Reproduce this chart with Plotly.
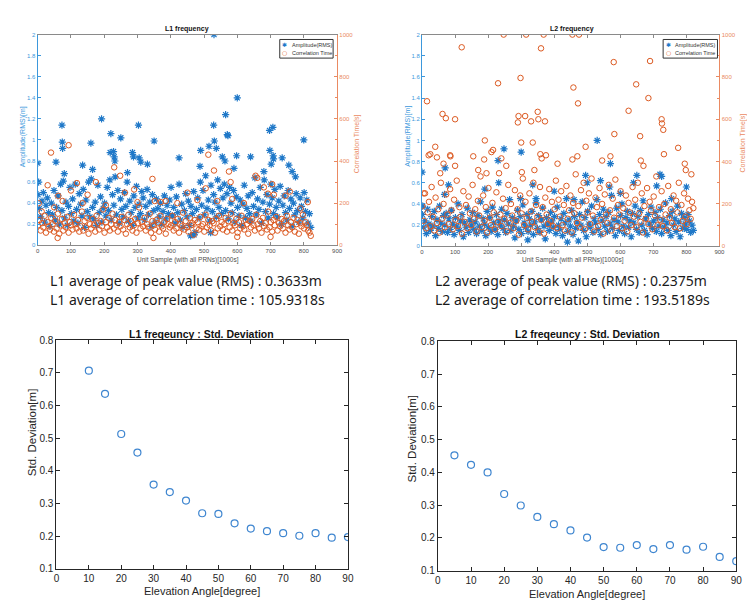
import plotly.graph_objects as go

# ---------------- data ----------------
SAMPLE_STEP = 4  # base points every 4th unit sample

L1_AMP_BASE = [
    0.48, 0.35, 0.27, 0.42, 0.50, 0.22, 0.38, 0.45, 0.31, 0.18, 0.40, 0.29, 0.52, 0.24, 0.36, 0.47, 0.20, 0.58, 0.33, 0.61,
    0.26, 0.41, 0.19, 0.37, 0.55, 0.30, 0.44, 0.23, 0.58, 0.34, 0.21, 0.49, 0.39, 0.28, 0.53, 0.17, 0.43, 0.32, 0.60, 0.27,
    0.63, 0.36, 0.25, 0.41, 0.19, 0.57, 0.31, 0.46, 0.22, 0.35, 0.40, 0.28, 0.55, 0.33, 0.62, 0.24, 0.48, 0.38, 0.65, 0.29,
    0.52, 0.21, 0.44, 0.34, 0.27, 0.50, 0.37, 0.60, 0.23, 0.42, 0.31, 0.19, 0.47, 0.36, 0.56, 0.26, 0.39, 0.30, 0.51, 0.45,
    0.24, 0.37, 0.53, 0.29, 0.41, 0.18, 0.48, 0.33, 0.22, 0.44, 0.35, 0.27, 0.40, 0.20, 0.32, 0.47, 0.25, 0.38, 0.30, 0.43,
    0.55, 0.28, 0.36, 0.21, 0.46, 0.31, 0.58, 0.24, 0.39, 0.17, 0.33, 0.49, 0.27, 0.42, 0.19, 0.37, 0.30, 0.51, 0.12, 0.34,
    0.45, 0.26, 0.60, 0.38, 0.52, 0.29, 0.66, 0.35, 0.43, 0.23, 0.57, 0.32, 0.48, 0.41, 0.27, 0.62, 0.36, 0.54, 0.30, 0.45,
    0.58, 0.33, 0.49, 0.25, 0.55, 0.40, 0.31, 0.52, 0.22, 0.46, 0.36, 0.28, 0.43, 0.19, 0.39, 0.57, 0.26, 0.35, 0.47, 0.30,
    0.23, 0.50, 0.37, 0.64, 0.29, 0.44, 0.34, 0.55, 0.21, 0.41, 0.62, 0.32, 0.48, 0.26, 0.39, 0.58, 0.45, 0.30, 0.53, 0.36,
    0.27, 0.42, 0.56, 0.20, 0.38, 0.47, 0.31, 0.24, 0.52, 0.35, 0.44, 0.18, 0.40, 0.29, 0.49, 0.33, 0.22, 0.45, 0.37, 0.26,
    0.50, 0.32, 0.43, 0.21, 0.30, 0.17,
]
L1_AMP_PEAK_X = [0, 3, 55, 73, 74, 75, 80, 135, 160, 165, 192, 220, 218, 228, 230, 232, 250, 270, 285, 288,
                 303, 305, 310, 330, 350, 425, 490, 488, 515, 530, 529, 531, 537, 555, 565, 563, 570, 572, 590, 600,
                 598, 640, 680, 697, 698, 702, 707, 708, 709, 735, 755, 765, 775, 800, 460, 470, 520]
L1_AMP_PEAK_Y = [0.78, 0.60, 0.79, 1.14, 0.98, 0.92, 0.68, 0.76, 0.97, 0.72, 1.20, 1.06, 0.88, 0.89, 0.84, 0.80, 1.02, 0.69, 0.88, 0.84,
                 1.14, 0.83, 0.79, 0.77, 0.99, 0.83, 0.90, 0.75, 0.94, 2.00, 1.14, 0.99, 0.92, 0.84, 1.24, 0.80, 1.05, 1.04, 0.73, 1.40,
                 0.85, 0.84, 0.70, 1.09, 0.90, 0.77, 1.12, 0.85, 0.82, 0.83, 0.76, 0.70, 0.65, 1.00, 0.09, 0.10, 0.12]

L1_COR_BASE = [
    95, 120, 70, 105, 85, 140, 60, 110, 90, 75, 130, 100, 65, 115, 80, 150, 55, 95, 125, 70,
    105, 85, 135, 60, 110, 95, 75, 145, 100, 80, 120, 65, 90, 160, 70, 115, 85, 130, 55, 100,
    80, 125, 95, 65, 140, 105, 75, 115, 90, 170, 60, 110, 85, 130, 70, 100, 150, 80, 120, 95,
    65, 110, 90, 135, 75, 120, 55, 100, 145, 85, 115, 70, 95, 125, 60, 105, 180, 80, 110, 90,
    130, 70, 100, 85, 150, 60, 115, 95, 75, 120, 105, 65, 140, 90, 80, 110, 55, 125, 100, 85,
    95, 140, 70, 110, 80, 125, 60, 100, 90, 155, 75, 115, 85, 65, 130, 95, 105, 50, 120, 80,
    110, 75, 135, 90, 100, 65, 145, 85, 120, 95, 70, 115, 105, 60, 125, 80, 140, 90, 110, 75,
    100, 130, 65, 115, 85, 150, 70, 105, 95, 125, 60, 110, 80, 140, 90, 75, 120, 100, 55, 115,
    85, 125, 95, 70, 145, 100, 80, 115, 60, 130, 90, 105, 75, 160, 85, 110, 65, 120, 95, 135,
    70, 105, 90, 125, 80, 115, 60, 140, 95, 75, 110, 85, 130, 65, 100, 120, 55, 105, 90, 145,
    80, 110, 95, 70, 60, 45,
]
L1_COR_PEAK_X = [3, 12, 30, 40, 50, 62, 75, 93, 100, 118, 135, 150, 175, 205, 230, 248, 262, 290, 300, 345,
                 352, 370, 385, 420, 450, 480, 505, 513, 530, 540, 575, 580, 585, 620, 655, 660, 680, 692, 705, 710,
                 745, 758, 790, 812, 600, 348, 60, 700]
L1_COR_PEAK_Y = [200, 160, 285, 440, 180, 235, 210, 475, 260, 295, 200, 240, 300, 190, 370, 330, 250, 265, 205, 315,
                 210, 205, 210, 200, 250, 215, 270, 430, 355, 210, 350, 300, 220, 200, 330, 320, 275, 245, 290, 240,
                 235, 255, 175, 205, 40, 35, 35, 40]

L2_AMP_BASE = [
    0.30, 0.18, 0.24, 0.12, 0.35, 0.21, 0.15, 0.28, 0.19, 0.33, 0.10, 0.25, 0.17, 0.38, 0.22, 0.14, 0.29, 0.20, 0.31, 0.13,
    0.26, 0.16, 0.34, 0.21, 0.11, 0.27, 0.19, 0.40, 0.15, 0.24, 0.30, 0.09, 0.22, 0.18, 0.36, 0.13, 0.25, 0.20, 0.32, 0.16,
    0.23, 0.12, 0.29, 0.19, 0.42, 0.15, 0.26, 0.21, 0.10, 0.33, 0.18, 0.27, 0.14, 0.37, 0.22, 0.16, 0.30, 0.11, 0.24, 0.20,
    0.35, 0.17, 0.25, 0.13, 0.31, 0.21, 0.44, 0.15, 0.27, 0.19, 0.08, 0.24, 0.34, 0.16, 0.28, 0.12, 0.39, 0.22, 0.18, 0.30,
    0.14, 0.26, 0.20, 0.33, 0.11, 0.23, 0.41, 0.17, 0.29, 0.13, 0.25, 0.36, 0.19, 0.07, 0.27, 0.21, 0.15, 0.32, 0.24, 0.18,
    0.28, 0.12, 0.37, 0.20, 0.16, 0.26, 0.10, 0.31, 0.22, 0.45, 0.14, 0.25, 0.19, 0.34, 0.11, 0.28, 0.17, 0.23, 0.05, 0.30,
    0.20, 0.42, 0.15, 0.27, 0.09, 0.33, 0.21, 0.18, 0.38, 0.13, 0.26, 0.22, 0.44, 0.16, 0.30, 0.11, 0.24, 0.35, 0.19, 0.28,
    0.14, 0.32, 0.21, 0.48, 0.17, 0.25, 0.10, 0.36, 0.23, 0.15, 0.29, 0.40, 0.19, 0.12, 0.27, 0.33, 0.18, 0.24, 0.09, 0.31,
    0.22, 0.38, 0.16, 0.28, 0.13, 0.34, 0.20, 0.43, 0.15, 0.26, 0.11, 0.30, 0.21, 0.37, 0.17, 0.24, 0.32, 0.14, 0.27, 0.19,
    0.35, 0.12, 0.25, 0.18, 0.41, 0.22, 0.15, 0.29, 0.10, 0.33, 0.20, 0.26, 0.14, 0.38, 0.23, 0.09, 0.31, 0.17, 0.27, 0.21,
    0.16, 0.30, 0.24, 0.13, 0.20, 0.15,
]
L2_AMP_PEAK_X = [0, 2, 70, 68, 80, 190, 230, 232, 248, 300, 298, 335, 345, 400, 460, 495, 500, 530, 540, 570,
                 568, 600, 640, 650, 710, 720, 725, 755, 800, 440, 320]
L2_AMP_PEAK_Y = [0.70, 0.38, 0.74, 0.49, 0.58, 0.54, 0.81, 0.60, 0.92, 0.89, 0.45, 0.58, 0.45, 0.52, 0.44, 0.67, 0.60, 1.00, 0.62, 0.78,
                 0.56, 0.50, 0.60, 0.67, 0.57, 0.68, 0.66, 0.45, 0.56, 0.04, 0.06]

L2_COR_BASE = [
    190, 120, 250, 85, 160, 210, 95, 280, 140, 75, 230, 110, 175, 65, 300, 130, 200, 90, 245, 150,
    105, 270, 170, 80, 220, 125, 310, 95, 185, 140, 60, 260, 115, 195, 85, 235, 155, 100, 290, 130,
    175, 70, 215, 145, 330, 90, 240, 120, 185, 65, 275, 135, 100, 205, 160, 80, 255, 115, 345, 150,
    95, 225, 130, 180, 70, 290, 110, 200, 145, 85, 265, 120, 175, 55, 240, 155, 320, 100, 210, 135,
    80, 250, 165, 115, 300, 90, 195, 140, 70, 280, 125, 185, 60, 230, 150, 105, 270, 120, 210, 95,
    175, 310, 85, 220, 140, 260, 100, 195, 75, 285, 130, 170, 240, 65, 205, 155, 340, 110, 190, 90,
    265, 135, 300, 80, 215, 160, 250, 105, 320, 145, 70, 230, 185, 95, 275, 125, 200, 60, 245, 150,
    110, 290, 170, 75, 225, 135, 315, 95, 195, 150, 260, 85, 180, 120, 240, 70, 205, 160, 100, 280,
    140, 220, 90, 300, 155, 115, 250, 65, 190, 130, 275, 105, 210, 170, 80, 235, 145, 330, 100, 185,
    125, 260, 95, 200, 150, 75, 285, 135, 175, 110, 240, 90, 215, 160, 300, 85, 195, 120, 250, 140,
    105, 225, 170, 130, 210, 180,
]
L2_COR_PEAK_X = [15, 5, 20, 25, 40, 45, 55, 62, 72, 65, 85, 86, 100, 100, 120, 155, 170, 190, 188, 195,
                 210, 215, 230, 240, 247, 255, 290, 292, 298, 300, 302, 315, 312, 330, 335, 340, 352, 350, 360, 358,
                 362, 368, 372, 375, 410, 455, 458, 455, 472, 475, 470, 495, 545, 570, 580, 582, 625, 648, 660, 662,
                 670, 685, 690, 725, 726, 730, 732, 775, 795, 798, 815]
L2_COR_PEAK_Y = [685, 250, 430, 435, 470, 420, 345, 625, 605, 390, 430, 425, 600, 380, 940, 425, 360, 500, 410, 345,
                 445, 455, 770, 415, 1000, 380, 585, 615, 795, 490, 350, 1000, 615, 590, 490, 360, 600, 635, 935, 435,
                 415, 1000, 590, 430, 390, 1000, 750, 410, 675, 1000, 425, 470, 405, 425, 870, 530, 640, 765, 520, 405,
                 380, 700, 875, 600, 580, 550, 435, 465, 390, 360, 340]

ELEV_L1 = [10, 15, 20, 25, 30, 35, 40, 45, 50, 55, 60, 65, 70, 75, 80, 85, 90]
STD_L1 = [0.707, 0.636, 0.513, 0.456, 0.358, 0.335, 0.309, 0.270, 0.268, 0.239, 0.223, 0.215, 0.209, 0.201, 0.209, 0.195, 0.197]
ELEV_L2 = [5, 10, 15, 20, 25, 30, 35, 40, 45, 50, 55, 60, 65, 70, 75, 80, 85, 90]
STD_L2 = [0.452, 0.423, 0.400, 0.334, 0.299, 0.264, 0.242, 0.223, 0.201, 0.172, 0.170, 0.178, 0.166, 0.178, 0.164, 0.173, 0.142, 0.129]

SUMMARY_L1 = ["L1 average of peak value (RMS) : 0.3633m", "L1 average of correlation time : 105.9318s"]
SUMMARY_L2 = ["L2 average of peak value (RMS) : 0.2375m", "L2 average of correlation time : 193.5189s"]
LEGEND_NAMES = ["Amplitude(RMS)", "Correlation Time"]


def base_x(vals):
    return list(range(1, SAMPLE_STEP * len(vals) + 1, SAMPLE_STEP))[:len(vals)]


# ---------------- styling ----------------
W, H = 755, 602
BLUE = "#1f78c8"
ORANGE = "#dc5a22"
AX_BLUE = "#3d98dc"
AX_ORANGE = "#ea8a62"
GRAY = "#4d4d4d"
MFONT = "Liberation Sans"


def px_x(p):
    return p / W


def px_y(p):
    return 1 - p / H


fig = go.Figure()

# top scatter panels
for amp_b, ampx, ampy, cor_b, corx, cory, xa, ya, ya2 in [
    (L1_AMP_BASE, L1_AMP_PEAK_X, L1_AMP_PEAK_Y, L1_COR_BASE, L1_COR_PEAK_X, L1_COR_PEAK_Y, "x", "y", "y2"),
    (L2_AMP_BASE, L2_AMP_PEAK_X, L2_AMP_PEAK_Y, L2_COR_BASE, L2_COR_PEAK_X, L2_COR_PEAK_Y, "x2", "y3", "y4"),
]:
    fig.add_trace(go.Scatter(
        x=base_x(amp_b) + ampx, y=amp_b + ampy, mode="markers", name=LEGEND_NAMES[0],
        xaxis=xa, yaxis=ya, showlegend=False,
        marker=dict(symbol="asterisk-open", size=6, color=BLUE, line=dict(color=BLUE, width=1.2)),
    ))
    fig.add_trace(go.Scatter(
        x=base_x(cor_b) + corx, y=cor_b + cory, mode="markers", name=LEGEND_NAMES[1],
        xaxis=xa, yaxis=ya2, showlegend=False,
        marker=dict(symbol="circle-open", size=5.5, color=ORANGE, line=dict(color=ORANGE, width=1)),
    ))

# bottom std panels
fig.add_trace(go.Scatter(x=ELEV_L1, y=STD_L1, mode="markers", xaxis="x3", yaxis="y5", showlegend=False,
                         marker=dict(symbol="circle-open", size=7, color="#3f86d0", line=dict(width=1.2))))
fig.add_trace(go.Scatter(x=ELEV_L2, y=STD_L2, mode="markers", xaxis="x4", yaxis="y6", showlegend=False,
                         marker=dict(symbol="circle-open", size=7, color="#3f86d0", line=dict(width=1.2))))

tick_small = dict(family=MFONT, size=6)

top_x_common = dict(range=[0, 900], dtick=100, showline=True, linecolor="#8a8a8a", linewidth=1, mirror="ticks",
                    ticks="inside", ticklen=3, tickcolor="#8a8a8a", showgrid=False, zeroline=False,
                    tickfont=dict(tick_small, color=GRAY), ticklabelstandoff=0)
left_y_common = dict(range=[0, 2], dtick=0.2, showline=True, linecolor=AX_BLUE, linewidth=1.2,
                     ticks="inside", ticklen=3, tickcolor=AX_BLUE, showgrid=False, zeroline=False,
                     tickfont=dict(tick_small, color=AX_BLUE))
right_y_common = dict(range=[0, 1000], dtick=200, showline=True, linecolor=AX_ORANGE, linewidth=1.2,
                      side="right", ticks="inside", ticklen=3, tickcolor=AX_ORANGE, showgrid=False, zeroline=False,
                      tickfont=dict(tick_small, color=AX_ORANGE),
                      minor=dict(dtick=100, ticks="inside", ticklen=2, tickcolor=AX_ORANGE))

bot_tick = dict(family=MFONT, size=10, color="#262626")
bot_x_common = dict(range=[0, 90], dtick=10, showline=True, linecolor="#262626", linewidth=1, mirror="ticks",
                    ticks="inside", ticklen=4, tickcolor="#262626", showgrid=False, zeroline=False, tickfont=bot_tick)
bot_y_common = dict(range=[0.1, 0.8], dtick=0.1, showline=True, linecolor="#262626", linewidth=1, mirror="ticks",
                    ticks="inside", ticklen=4, tickcolor="#262626", showgrid=False, zeroline=False, tickfont=bot_tick,
                    tickformat=".1f")

fig.update_layout(
    width=W, height=H, autosize=False,
    margin=dict(l=0, r=0, t=0, b=0),
    paper_bgcolor="white", plot_bgcolor="white",
    showlegend=False,
    xaxis=dict(top_x_common, domain=[px_x(27), px_x(330)], anchor="y"),
    yaxis=dict(left_y_common, domain=[px_y(236), px_y(21)], anchor="x"),
    yaxis2=dict(right_y_common, overlaying="y", anchor="x"),
    xaxis2=dict(top_x_common, domain=[px_x(416), px_x(717)], anchor="y3"),
    yaxis3=dict(left_y_common, domain=[px_y(237), px_y(21)], anchor="x2"),
    yaxis4=dict(right_y_common, overlaying="y3", anchor="x2"),
    xaxis3=dict(bot_x_common, domain=[px_x(46), px_x(341)], anchor="y5"),
    yaxis5=dict(bot_y_common, domain=[px_y(566), px_y(333)], anchor="x3"),
    xaxis4=dict(bot_x_common, domain=[px_x(432), px_x(734)], anchor="y6"),
    yaxis6=dict(bot_y_common, domain=[px_y(568), px_y(334)], anchor="x4"),
)

ann = []
shapes = []


def text(x, y, s, size, color="#222", bold=False, angle=0, family=MFONT, xanchor="center"):
    ann.append(dict(x=px_x(x), y=px_y(y), xref="paper", yref="paper", text=f"<b>{s}</b>" if bold else s,
                    showarrow=False, textangle=angle, xanchor=xanchor, yanchor="middle",
                    font=dict(family=family, size=size, color=color)))


# top panels labels
text(178, 15, "L1 frequency", 7, "#111", bold=True)
text(568, 15, "L2 frequency", 7, "#111", bold=True)
text(179, 251, "Unit Sample (with all PRNs)[1000s]", 6.5, GRAY)
text(569, 251, "Unit Sample (with all PRNs)[1000s]", 6.5, GRAY)
text(12, 125, "Amplitude(RMS)[m]", 7, AX_BLUE, angle=-90)
text(401, 125, "Amplitude(RMS)[m]", 7, AX_BLUE, angle=-90)
text(351, 132, "Correlation Time[s]", 7, AX_ORANGE, angle=-90)
text(741, 132, "Correlation Time[s]", 7, AX_ORANGE, angle=-90)

# compact legends (box, symbols and labels)
for lx0, lx1 in [(272, 326), (660, 715)]:
    shapes.append(dict(type="rect", xref="paper", yref="paper",
                       x0=px_x(lx0), x1=px_x(lx1), y0=px_y(45), y1=px_y(26),
                       line=dict(color="#333333", width=1), fillcolor="white", layer="above"))
    text(lx0 + 5, 31.5, "✱", 6, BLUE, family="DejaVu Sans")
    text(lx0 + 5, 39.5, "○", 6, ORANGE, family="DejaVu Sans")
    text(lx0 + 10, 31.5, LEGEND_NAMES[0], 5.5, "#333", xanchor="left")
    text(lx0 + 10, 39.5, LEGEND_NAMES[1], 5.5, "#333", xanchor="left")

# summary text
for i, (a, b) in enumerate(zip(SUMMARY_L1, SUMMARY_L2)):
    text(37, 272 + 19 * i, a, 14, "#1a1a1a", family="Noto Sans", xanchor="left")
    text(427, 272 + 19 * i, b, 14, "#1a1a1a", family="Noto Sans", xanchor="left")

# bottom panels labels
text(193, 326, "L1 freqeuncy : Std. Deviation", 10.5, "#111", bold=True)
text(583, 327, "L2 freqeuncy : Std. Deviation", 10.5, "#111", bold=True)
text(193, 589, "Elevation Angle[degree]", 11, "#262626")
text(583, 592, "Elevation Angle[degree]", 11, "#262626")
text(22, 427, "Std. Deviation[m]", 11.5, "#262626", angle=-90)
text(406, 433, "Std. Deviation[m]", 11.5, "#262626", angle=-90)

fig.update_layout(annotations=ann, shapes=shapes)

fig.write_html("out.html")
